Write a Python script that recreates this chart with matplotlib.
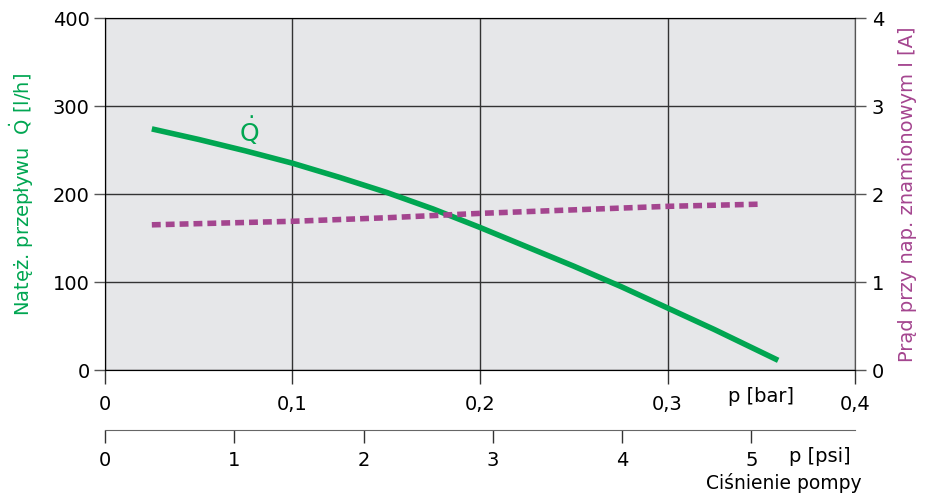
import numpy as np
import matplotlib
matplotlib.use("Agg")
import matplotlib.pyplot as plt

# data
p_flow = [0.025, 0.05, 0.075, 0.1, 0.125, 0.15, 0.175, 0.2, 0.225, 0.25, 0.275, 0.3, 0.325, 0.359]
q_flow = [274, 262, 249, 235, 219, 202, 183, 162, 140, 118, 95, 70.5, 46, 11]
p_amp = [0.025, 0.1, 0.15, 0.2, 0.25, 0.3, 0.35]
i_amp = [1.65, 1.69, 1.73, 1.78, 1.82, 1.86, 1.885]

bar_ticks = [0, 0.1, 0.2, 0.3, 0.4]
bar_labels = ["0", "0,1", "0,2", "0,3", "0,4"]
psi_ticks = [0, 1, 2, 3, 4, 5]
flow_ticks = [0, 100, 200, 300, 400]
amp_ticks = [0, 1, 2, 3, 4]

GREEN = "#00a651"
PURPLE = "#a4458f"
BG = "#e6e7e9"
PSI_PER_BAR = 14.5038

plt.rcParams["font.family"] = "DejaVu Sans"
plt.rcParams["mathtext.fontset"] = "dejavusans"

fig = plt.figure(figsize=(9.49, 4.95), dpi=100)
ax = fig.add_axes([0.1106, 0.2525, 0.7904, 0.7111])
ax.set_facecolor(BG)

ax.plot(p_flow, q_flow, color=GREEN, lw=4, solid_capstyle="butt", zorder=3)
ax.text(0.077, 272, r"$\dot{\mathrm{Q}}$", color=GREEN, fontsize=18, ha="center", va="center")

ax.set_xlim(0, 0.4)
ax.set_ylim(0, 400)
ax.set_xticks(bar_ticks)
ax.set_xticklabels(bar_labels)
ax.set_yticks(flow_ticks)
ax.grid(True, color="#333333", lw=1)
ax.set_axisbelow(True)
for s in ax.spines.values():
    s.set_color("#555555")
ax.tick_params(axis="x", length=10, width=1, color="#333333", labelsize=14, pad=8)
ax.tick_params(axis="y", length=8, width=1, color="#555555", labelsize=14, pad=3)
ax.set_ylabel(r"Natęż. przepływu  $\dot{\mathrm{Q}}$ [l/h]", color=GREEN, fontsize=14, labelpad=12)
ax.text(0.35, -30, "p [bar]", fontsize=14, ha="center", va="center")

# right axis: current
axr = ax.twinx()
axr.plot(p_amp, i_amp, color=PURPLE, lw=4, ls=(0, (1.6, 0.9)), zorder=3)
axr.set_ylim(0, 4)
axr.set_yticks(amp_ticks)
axr.tick_params(axis="y", length=8, width=1, color="#555555", labelsize=14, pad=4)
axr.spines["right"].set_color("#555555")
axr.set_ylabel("Prąd przy nap. znamionowym I [A]", color=PURPLE, fontsize=14, labelpad=10)

# second pressure axis in psi
axp = ax.twiny()
axp.set_xlim(0, 0.4 * PSI_PER_BAR)
axp.xaxis.set_ticks_position("bottom")
axp.xaxis.set_label_position("bottom")
axp.spines["bottom"].set_position(("outward", 43))
for k in ["top", "left", "right"]:
    axp.spines[k].set_visible(False)
axp.spines["bottom"].set_color("#666666")
axp.set_xticks(psi_ticks)
axp.tick_params(axis="x", length=9, width=1, color="#333333", labelsize=14, pad=6)
axp.text(5.53, -0.245, "p [psi]", fontsize=14, ha="center", va="center",
         transform=axp.get_xaxis_transform())

fig.text(0.908, 0.005, "Ciśnienie pompy", fontsize=13.5, ha="right", va="bottom")

fig.savefig("out.png", dpi=100)
